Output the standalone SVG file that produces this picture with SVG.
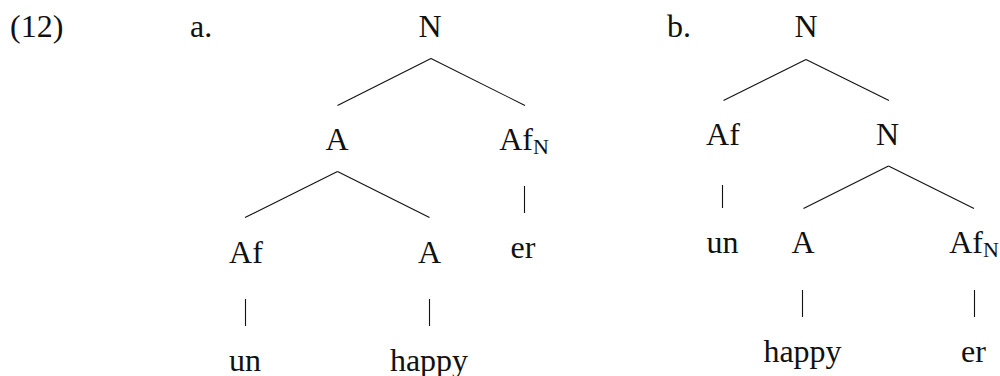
<svg xmlns="http://www.w3.org/2000/svg" width="1000" height="376" viewBox="0 0 1000 376">
<style>
text{font-family:'Liberation Serif','DejaVu Serif',serif;font-size:32px;fill:#111;text-anchor:middle}
.sub{font-size:22px}
.lbl{text-anchor:start}
line{stroke:#111;stroke-width:1.1}
</style>
<rect width="1000" height="376" fill="#fff"/>
<g id="labels">
<text class="lbl" x="10" y="37">(12)</text>
<text class="lbl" x="190" y="37">a.</text>
<text class="lbl" x="667" y="37">b.</text>
</g>
<g id="connectors">
<line x1="431" y1="58.5" x2="337.5" y2="105.5"/>
<line x1="431" y1="58.5" x2="525" y2="105.5"/>
<line x1="337.5" y1="171.5" x2="245" y2="217.5"/>
<line x1="337.5" y1="171.5" x2="429.5" y2="217.5"/>
<line x1="524.5" y1="186" x2="524.5" y2="213"/>
<line x1="245.5" y1="299" x2="245.5" y2="326"/>
<line x1="429.5" y1="299" x2="429.5" y2="326"/>
<line x1="806" y1="59.5" x2="723.5" y2="100.5"/>
<line x1="806" y1="59.5" x2="889" y2="100.5"/>
<line x1="722.5" y1="185" x2="722.5" y2="208"/>
<line x1="888.5" y1="166" x2="803.5" y2="208.5"/>
<line x1="888.5" y1="166" x2="974" y2="208.5"/>
<line x1="802.5" y1="290" x2="802.5" y2="317"/>
<line x1="974.5" y1="290" x2="974.5" y2="317"/>
</g>
<g id="a-N"><text x="430" y="37">N</text></g>
<g id="a-A"><text x="337" y="150">A</text></g>
<g id="a-AfN"><text x="524" y="150">Af<tspan class="sub" dy="4">N</tspan></text></g>
<g id="a-Af"><text x="246" y="263">Af</text></g>
<g id="a-A2"><text x="429.5" y="263">A</text></g>
<g id="a-er"><text x="523" y="258">er</text></g>
<g id="a-un"><text x="245" y="371">un</text></g>
<g id="a-happy"><text x="429" y="371">happy</text></g>
<g id="b-N"><text x="806" y="37">N</text></g>
<g id="b-Af"><text x="723" y="145">Af</text></g>
<g id="b-N2"><text x="887.5" y="145">N</text></g>
<g id="b-un"><text x="722.5" y="253">un</text></g>
<g id="b-A"><text x="803" y="253">A</text></g>
<g id="b-AfN"><text x="974" y="253">Af<tspan class="sub" dy="4">N</tspan></text></g>
<g id="b-happy"><text x="802.5" y="362">happy</text></g>
<g id="b-er"><text x="973.5" y="362">er</text></g>
</svg>
